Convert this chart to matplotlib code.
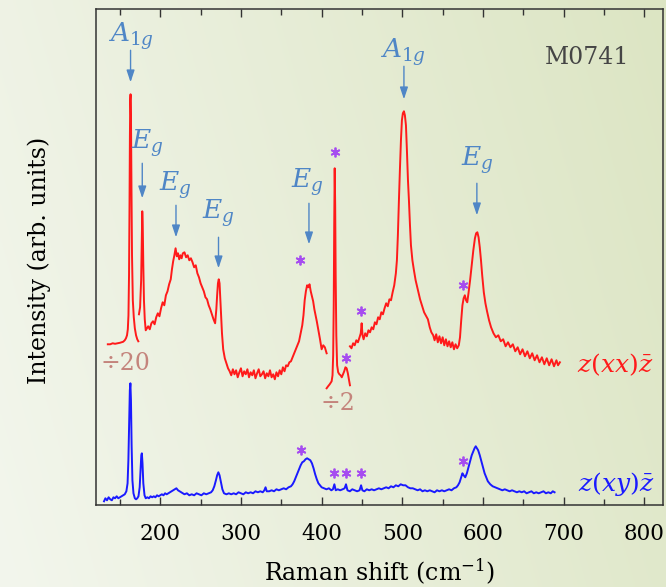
import numpy as np
import matplotlib
matplotlib.use("Agg")
import matplotlib.pyplot as plt
from matplotlib.ticker import MultipleLocator

plt.rcParams['font.family'] = ['DejaVu Serif']
plt.rcParams['mathtext.fontset'] = 'dejavuserif'

# ---- z(xx)z-bar spectrum, split into pieces (two of them scaled down) ----
# A1g line near 163 cm-1, divided by 20
xx_a_shift = [135, 138, 141, 144, 147, 150, 152, 154, 156, 157.5, 158.8, 159.8, 160.6,
              161.3, 161.9, 162.4, 162.8, 163.2, 163.7, 164.3, 165, 166, 167.2, 168.5,
              170, 171.5, 172.8]
xx_a_int = [161, 161, 162, 161.5, 162, 162.5, 163, 163.5, 165, 167, 170, 176, 190,
            230, 300, 370, 405, 411, 390, 320, 250, 205, 188, 177, 170, 166, 164]

# 174 - 406 cm-1
xx_b_shift = [173.6, 175, 176.3, 177.1, 177.7, 178.3, 179, 179.8, 180.8, 182, 183.5, 185, 187,
              189, 191, 193, 195, 197, 199, 201, 203, 205, 207, 209, 211, 213, 214.5, 216,
              217.5, 219, 220.5, 222, 223.5, 225, 226.5, 228, 230, 232, 234, 236, 238, 240,
              242, 244, 246, 248, 250, 252, 254, 256, 258, 260, 262, 264, 266, 268, 269.5,
              270.5, 271.5, 272.5, 273.5, 274.5, 275.5, 276.5, 278, 280, 282, 284,
              286, 288, 290, 292, 294, 296, 298, 300, 302, 304, 306, 308, 310, 312, 314,
              316, 318, 320, 322, 324, 326, 328, 330, 332, 334, 336, 338, 340, 342, 344,
              346, 348, 350, 352, 354, 356, 358, 360, 362, 364, 366, 368, 370, 372, 374,
              376, 377.5, 379, 380.5, 382, 383.5, 385, 386.5, 388, 389.5, 391, 392.5, 394,
              396, 398, 400, 402, 404, 406.2]
xx_b_int = [191, 198, 225, 265, 294, 280, 240, 205, 186, 175, 177, 179, 176,
            182, 184, 181, 188, 192, 189, 197, 203, 200, 210, 214, 221, 226, 236, 244,
            250, 257, 249, 252, 246, 250, 247, 252, 253, 248, 250, 245, 247, 243,
            238, 240, 232, 228, 222, 218, 214, 208, 206, 200, 196, 191, 186, 182, 196,
            210, 222, 226, 222, 205, 190, 172, 156, 147, 142, 137,
            134, 130, 136, 131, 135, 128, 133, 137, 129, 134, 131, 136, 128, 133, 130,
            135, 127, 132, 136, 129, 131, 134, 127, 132, 129, 135, 128, 131, 126, 133,
            129, 135, 131, 138, 134, 140, 139, 143, 144, 148, 152, 156, 160, 164, 172,
            180, 190, 205, 214, 220, 218, 221, 214, 209, 204, 196, 190, 184,
            175, 166, 156, 160, 158, 152]

# 406 - 435 cm-1, divided by 2
xx_c_shift = [406.2, 408, 410, 412.4, 413.5, 414.3, 415, 415.6, 416.2, 416.8, 417.4, 418.2,
              419.2, 420.5, 422, 423.5, 425, 426.5, 428, 429.5, 431, 432.5, 434, 435.1]
xx_c_int = [117, 119, 121, 124, 130, 150, 200, 280, 337, 300, 230, 170,
            140, 133, 131, 130, 128, 131, 134, 138, 137, 132, 125, 120]

# 435 - 695 cm-1
xx_d_shift = [435.1, 437, 439, 441, 443, 445, 447, 448.5, 449.6, 450.7, 452, 454, 456, 458,
              460, 462, 464, 466, 468, 470, 472, 474, 476, 478, 480, 482, 484, 486, 488,
              490, 492, 493.3, 494.5, 495.8, 497, 498.3, 499.5, 500.7, 502, 503.2, 504.5,
              505.7, 507, 508.2, 509.5, 510.7, 512.5, 514.4, 516.5, 519.4, 522, 524.3, 527,
              529, 531.7, 534, 536, 538.3, 540, 542, 544, 546, 548, 550, 552, 554, 556, 558,
              560, 562, 564, 566, 568, 570, 571.5, 573, 574.5, 576, 577.5, 579, 580.5, 582,
              584, 586, 588, 590, 591.5, 593, 594.5, 596, 597.5, 599, 601, 603, 605, 607.5,
              610, 613, 616, 619, 622, 625, 628, 631, 634, 637, 640, 643, 646, 649, 652,
              655, 658, 661, 664, 667, 670, 673, 676, 679, 682, 685, 688, 691, 693, 695.3]
xx_d_int = [159, 157, 162, 160, 165, 163, 168, 172, 182, 170, 166, 172, 169, 175,
            173, 178, 176, 183, 181, 188, 186, 193, 191, 197, 202, 199, 206, 205, 213,
            220, 232, 245, 270, 305, 335, 365, 385, 392, 394, 390, 380,
            355, 325, 305, 280, 260, 245, 235, 225, 215, 206, 200, 193,
            190, 186, 178, 173, 170, 165, 171, 163, 169, 162, 168, 160, 166, 159, 164,
            158, 163, 156, 161, 157, 160, 168, 185, 200, 207, 210, 205, 203, 212,
            225, 240, 255, 267, 272, 273, 268, 258, 245, 230, 213, 202, 194, 185,
            178, 172, 168, 170, 164, 166, 159, 163, 158, 161, 154, 158, 151, 156, 149,
            154, 147, 152, 145, 150, 143, 148, 141, 147, 140, 146, 139, 145, 140, 143]

# ---- z(xy)z-bar spectrum ----
xy_shift = [130.3, 132, 134, 136, 138, 140, 142, 144, 146, 148, 150, 152, 154, 156, 158,
            159.5, 160.5, 161.5, 162.3, 163, 163.7, 164.5, 165.5, 166.8, 168.5, 170, 171.5,
            173, 174.5, 175.6, 176.5, 177.2, 178, 179, 180.5, 182, 184, 186, 188, 190, 192,
            194, 196, 198, 200, 202, 204, 206, 208, 210, 212, 214, 216, 218, 220, 222, 224,
            226, 228, 230, 233, 236, 239, 242, 245, 248, 251, 254, 257, 260, 263, 265, 267,
            269, 270.5, 272, 273.5, 275, 277, 279, 282, 285, 288, 291, 294, 297, 300, 303,
            306, 309, 312, 315, 318, 321, 324, 327, 329, 330.5, 332, 335, 338, 341, 344,
            347, 350, 353, 356, 359, 362, 364, 366, 368, 370, 372, 374, 376, 378, 380, 382,
            384, 386, 388, 390, 392, 394, 396, 398, 400, 403, 406, 409, 412, 414, 415.8,
            417.5, 420, 423, 426, 428.5, 430.2, 432, 435, 438, 441, 444, 447, 448.9, 450.5,
            453, 456, 459, 462, 465, 468, 471, 474, 477, 480, 483, 486, 489, 492, 495, 498,
            501, 504, 507, 510, 513, 516, 519, 522, 525, 528, 531, 534, 537, 540, 543, 546,
            549, 552, 555, 558, 561, 564, 567, 569, 571, 573, 574.5, 576, 578, 580, 582,
            584, 586, 588, 589.5, 591, 592.5, 594, 596, 598, 600, 602, 604, 606, 609, 612,
            615, 618, 621, 624, 627, 630, 633, 636, 639, 642, 645, 648, 651, 654, 657, 660,
            663, 666, 669, 672, 675, 678, 681, 684, 686.5, 688.7]
xy_int = [4, 7, 5, 8, 6, 5, 8, 7, 9, 7, 8, 9, 10, 11, 14,
          22, 45, 85, 115, 122, 105, 60, 25, 12, 7, 6, 7,
          9, 18, 35, 50, 52, 42, 22, 10, 7, 8, 7, 9, 8, 9,
          8, 10, 9, 10, 11, 10, 12, 11, 12, 13, 14, 15, 16, 17, 15, 14,
          13, 12, 11, 12, 10, 11, 10, 12, 11, 10, 12, 11, 12, 13, 15, 19,
          25, 30, 33, 30, 24, 16, 12, 11, 12, 11, 12, 11, 13, 12, 11,
          13, 12, 13, 12, 14, 13, 14, 13, 15, 18, 14, 14, 15, 14, 16,
          15, 16, 17, 16, 18, 19, 21, 24, 28, 32, 36, 40, 43, 44, 46, 47,
          46, 45, 42, 37, 31, 26, 22, 20, 18, 17, 16, 17, 15, 16, 21,
          15, 16, 15, 16, 17, 21, 15, 14, 16, 15, 14, 15, 20, 15,
          14, 16, 15, 16, 15, 16, 17, 16, 17, 18, 17, 19, 18, 20, 19, 21,
          20, 20, 18, 17, 17, 16, 15, 16, 14, 15, 14, 15, 14, 13, 15, 14,
          15, 14, 15, 16, 15, 17, 18, 20, 23, 28, 32, 30, 28, 32, 38,
          44, 50, 54, 57, 59, 57, 55, 50, 44, 38, 32, 28, 24, 21, 19,
          18, 17, 16, 15, 16, 15, 14, 15, 14, 13, 14, 13, 14, 12, 13, 14,
          12, 13, 12, 13, 14, 12, 13, 12, 14, 13]

# mode labels: (text, text x, text y, arrow x, arrow tail y, arrow tip y)
mode_labels = [
    (r'$A_{1g}$', 163.9, 469, 163.2, 455, 423),
    (r'$E_g$', 184.2, 362, 177.7, 342, 307),
    (r'$E_g$', 218.9, 320, 219.5, 300, 268),
    (r'$E_g$', 272.2, 292, 272.2, 268, 237),
    (r'$E_g$', 382.4, 323, 384.3, 302, 261),
    (r'$A_{1g}$', 500.7, 453, 502.0, 439, 406),
    (r'$E_g$', 592.4, 345, 592.4, 322, 290),
]

# impurity / leakage features
star_xx_shift = [373.1, 416.4, 429.6, 448.8, 575.0]
star_xx_int = [245, 353, 147, 194, 220]
star_xy_shift = [374.7, 415.8, 430.2, 448.9, 575.2]
star_xy_int = [55, 32, 32, 32, 44]

fig = plt.figure(figsize=(6.66, 5.87), dpi=100)

# soft green gradient behind everything
bg = fig.add_axes([0, 0, 1, 1], zorder=-10)
gx, gy = np.meshgrid(np.linspace(0, 1, 300), np.linspace(1, 0, 300))
t = np.clip(0.8 * gx + 0.2 * gy, 0, 1)[..., None]
c_left = np.array([243, 246, 237]) / 255
c_right = np.array([220, 229, 195]) / 255
bg.imshow(c_left + (c_right - c_left) * t, aspect='auto', extent=[0, 1, 0, 1])
bg.axis('off')

ax = fig.add_axes([0.1437, 0.1392, 0.8523, 0.845])
ax.set_facecolor('none')

red = '#ff1a1a'
blue = '#1a1aff'
for xs, ys in [(xx_a_shift, xx_a_int), (xx_b_shift, xx_b_int),
               (xx_c_shift, xx_c_int), (xx_d_shift, xx_d_int)]:
    ax.plot(xs, ys, color=red, lw=1.4)
ax.plot(xy_shift, xy_int, color=blue, lw=1.4)

star_c = '#a64cf0'
ax.plot(star_xx_shift, star_xx_int, ls='none', marker=(6, 2, 0), ms=7, mew=1.3, color=star_c)
ax.plot(star_xy_shift, star_xy_int, ls='none', marker=(6, 2, 0), ms=7, mew=1.3, color=star_c)

mode_c = '#4f86c6'
for lab, tx, ty, axx, y0, y1 in mode_labels:
    ax.text(tx, ty, lab, color=mode_c, fontsize=19, ha='center', va='center')
    ax.annotate('', xy=(axx, y1), xytext=(axx, y0),
                arrowprops=dict(arrowstyle='-|>,head_length=0.6,head_width=0.2',
                                color=mode_c, lw=1.0, mutation_scale=12,
                                shrinkA=0, shrinkB=0))

scale_c = '#c4847c'
ax.text(157, 142, '÷20', color=scale_c, fontsize=17, ha='center', va='center')
ax.text(419.6, 102, '÷2', color=scale_c, fontsize=17, ha='center', va='center')

ax.text(763.9, 141, r'$z(xx)\bar{z}$', color=red, fontsize=18, ha='center', va='center')
ax.text(764.7, 21, r'$z(xy)\bar{z}$', color=blue, fontsize=18, ha='center', va='center')
ax.text(729.3, 448, 'M0741', color='#454545', fontsize=17, ha='center', va='center')

ax.set_xlim(120, 823.5)
ax.set_ylim(0, 496)
ax.set_xticks(range(200, 801, 100))
ax.xaxis.set_minor_locator(MultipleLocator(50))
ax.set_yticks([])
ax.tick_params(axis='x', which='both', direction='in', top=True, colors='#333333',
               labelcolor='black', labelsize=15.5, pad=13)
ax.tick_params(axis='x', which='major', length=6, width=1)
ax.tick_params(axis='x', which='minor', length=4, width=1)
for s in ax.spines.values():
    s.set_color('#333333')
    s.set_linewidth(1.1)

ax.set_xlabel('Raman shift (cm$^{-1}$)', fontsize=17, labelpad=8)
fig.text(39 / 666, 0.557, 'Intensity (arb. units)', rotation=90, fontsize=17,
         ha='center', va='center')

fig.savefig('out.png', dpi=100)
